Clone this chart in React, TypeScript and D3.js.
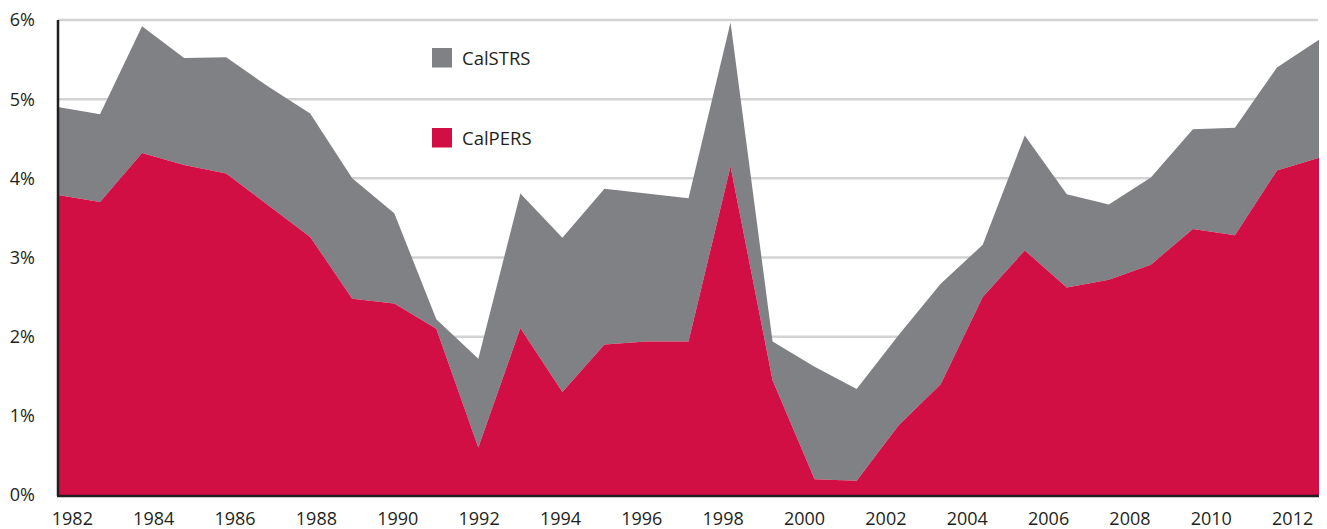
import React from "react";
import * as d3 from "d3";

const years: number[] = d3.range(1982, 2013);
const calPERS: number[] = [
  3.79, 3.70, 4.32, 4.17, 4.06, 3.66, 3.26, 2.48, 2.42, 2.10,
  0.60, 2.11, 1.30, 1.90, 1.94, 1.94, 4.15, 1.45, 0.20, 0.18,
  0.88, 1.40, 2.50, 3.09, 2.62, 2.72, 2.91, 3.36, 3.28, 4.10, 4.26,
];
const calSTRS: number[] = [
  1.11, 1.11, 1.60, 1.35, 1.47, 1.50, 1.56, 1.52, 1.14, 0.12,
  1.12, 1.70, 1.95, 1.97, 1.87, 1.81, 1.82, 0.49, 1.42, 1.16,
  1.14, 1.27, 0.66, 1.45, 1.18, 0.95, 1.10, 1.26, 1.36, 1.30, 1.49,
];
const yTicks: number[] = [0, 1, 2, 3, 4, 5, 6];
const xTickYears: number[] = d3.range(1982, 2013, 2);
const seriesNames: string[] = ["CalPERS", "CalSTRS"];
const seriesColors: string[] = ["#d20f44", "#808184"];

const W = 1327;
const H = 529;
const M = { left: 58, right: 8, top: 20, bottom: 34 };
const FONT = "'Open Sans', 'Noto Sans', sans-serif";

export default function App() {
  const rows = years.map((y, i) => ({ year: y, CalPERS: calPERS[i], CalSTRS: calSTRS[i] }));
  const stack = d3.stack<any>().keys(seriesNames);
  const stacked = stack(rows);

  const x = d3.scaleLinear().domain([1982, 2012]).range([M.left, W - M.right]);
  const y = d3.scaleLinear().domain([0, 6]).range([H - M.bottom, M.top]);
  const band = d3.scaleBand<number>().domain(years).range([M.left, W - M.right]);

  const area = d3
    .area<any>()
    .x((d) => x(d.data.year))
    .y0((d) => y(d[0]))
    .y1((d) => y(d[1]));

  const legend = [
    { name: "CalSTRS", color: seriesColors[1], y: 58 },
    { name: "CalPERS", color: seriesColors[0], y: 138 },
  ];

  return (
    <svg
      width={W}
      height={H}
      style={{ position: "absolute", left: 0, top: 0, display: "block", background: "#fff" }}
      fontFamily={FONT}
    >
      {/* gridlines */}
      {yTicks.map((t) => (
        <line
          key={"g" + t}
          x1={M.left}
          x2={W - M.right - 1}
          y1={y(t)}
          y2={y(t)}
          stroke="#d3d3d3"
          strokeWidth={2.5}
        />
      ))}
      {/* areas: CalSTRS (top) drawn then CalPERS */}
      {stacked
        .slice()
        .reverse()
        .map((s) => (
          <path
            key={s.key}
            d={area(s) || ""}
            fill={seriesColors[seriesNames.indexOf(s.key)]}
          />
        ))}
      {/* axes */}
      <line x1={M.left} x2={M.left} y1={y(6)} y2={y(0) + 1} stroke="#231f20" strokeWidth={2.5} />
      <line x1={M.left - 1} x2={W - M.right} y1={y(0) + 1} y2={y(0) + 1} stroke="#231f20" strokeWidth={2.5} />
      {/* y labels */}
      {yTicks.map((t) => (
        <text
          key={"yl" + t}
          x={35}
          y={y(t)}
          dy="0.36em"
          textAnchor="end"
          fontSize={18}
          fill="#231f20"
        >
          {t + "%"}
        </text>
      ))}
      {/* x labels */}
      {xTickYears.map((yr) => (
        <text
          key={"xl" + yr}
          x={(band(yr) as number) + band.bandwidth() / 2 - 6}
          y={525}
          textAnchor="middle"
          fontSize={18}
          fill="#231f20"
        >
          {yr}
        </text>
      ))}
      {/* legend */}
      {legend.map((l) => (
        <g key={l.name}>
          <rect x={432} y={l.y - 10} width={20} height={19.5} fill={l.color} />
          <text x={462} y={l.y} dy="0.36em" fontSize={18.5} fill="#231f20">
            {l.name}
          </text>
        </g>
      ))}
    </svg>
  );
}
